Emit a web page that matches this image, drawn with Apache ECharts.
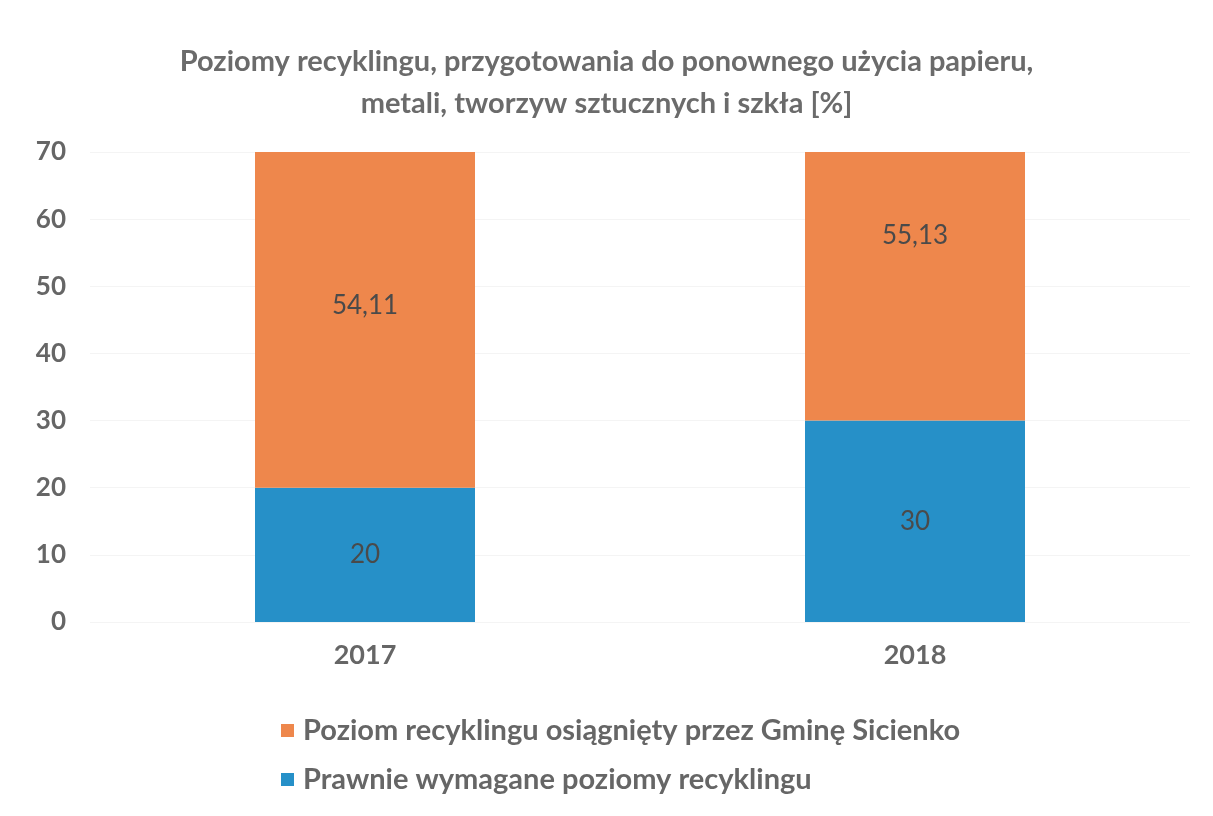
<!DOCTYPE html>
<html><head><meta charset="utf-8">
<script src="https://cdn.jsdelivr.net/npm/echarts@6/dist/echarts.min.js"></script>
<style>html,body{margin:0;padding:0;background:#fff}#c{width:1213px;height:816px}</style>
</head><body><div id="c"></div>
<script>
const categories = ['2017', '2018'];
const requiredLevels = [20, 30];
const achievedLevels = [54.11, 55.13];
const yTicks = [0, 10, 20, 30, 40, 50, 60, 70];
const seriesNames = ['Prawnie wymagane poziomy recyklingu', 'Poziom recyklingu osiągnięty przez Gminę Sicienko'];
const titleText = 'Poziomy recyklingu, przygotowania do ponownego użycia papieru,\nmetali, tworzyw sztucznych i szkła [%]';

const FONT = 'Lato';
const yMax = yTicks[yTicks.length - 1];
const chart = echarts.init(document.getElementById('c'));
const fmt = p => String(p.value).replace('.', ',');
const labelStyle = { show: true, position: 'inside', formatter: fmt, fontFamily: FONT, fontSize: 26, color: '#4a4a4a' };
function buildOption(orangeOffsets) {
  return {
    animation: false,
    backgroundColor: '#fff',
    title: {
      text: titleText, left: 'center', top: 36,
      textStyle: { fontFamily: FONT, fontSize: 29, fontWeight: 'bold', color: '#6b6b6b', lineHeight: 42 }
    },
    legend: {
      orient: 'vertical', left: 276, top: 711, itemGap: 20,
      itemWidth: 13, itemHeight: 13, icon: 'rect',
      data: [seriesNames[1], seriesNames[0]],
      textStyle: { fontFamily: FONT, fontSize: 29, fontWeight: 'bold', color: '#666', padding: [0, 0, 0, 4] }
    },
    grid: { left: 90, right: 23, top: 152, bottom: 194 },
    xAxis: {
      type: 'category', data: categories,
      axisLine: { show: false }, axisTick: { show: false },
      axisLabel: { fontFamily: FONT, fontSize: 27, fontWeight: 'bold', color: '#666', margin: 20 }
    },
    yAxis: {
      type: 'value', min: yTicks[0], max: yMax, interval: 10,
      axisLine: { show: false }, axisTick: { show: false },
      splitLine: { lineStyle: { color: '#f4f4f4' } },
      axisLabel: { fontFamily: FONT, fontSize: 26, fontWeight: 'bold', color: '#666', margin: 24 }
    },
    series: [
      {
        name: seriesNames[0], type: 'bar', stack: 'a', barWidth: '40%', data: requiredLevels,
        itemStyle: { color: '#2690c8' }, label: labelStyle
      },
      {
        name: seriesNames[1], type: 'bar', stack: 'a', barWidth: '40%',
        data: achievedLevels.map((v, i) => ({ value: v, label: { offset: [0, orangeOffsets[i]] } })),
        itemStyle: { color: '#ee874c' }, label: labelStyle
      }
    ]
  };
}
chart.setOption(buildOption([0, 0]));
// label sits at the middle of the unclipped segment, as in the original
const offsets = achievedLevels.map((v, i) => {
  const base = requiredLevels[i];
  const trueMid = base + v / 2;
  const clipMid = (base + Math.min(base + v, yMax)) / 2;
  return chart.convertToPixel({ yAxisIndex: 0 }, trueMid) - chart.convertToPixel({ yAxisIndex: 0 }, clipMid);
});
chart.setOption(buildOption(offsets));
</script></body></html>
